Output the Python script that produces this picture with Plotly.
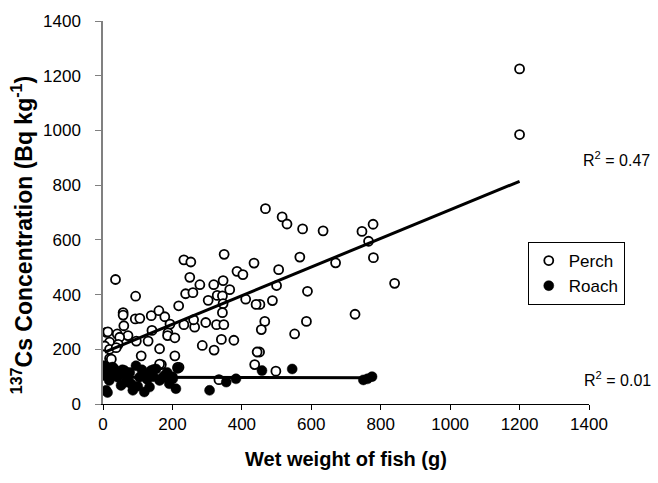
import numpy as np
import plotly.graph_objects as go

# ---- data ----
perch_x = [1200, 1200,
           468, 516, 530, 575, 634, 746, 778, 765, 779, 567, 670, 506, 840, 500, 589, 488,
           452, 726, 466, 586, 456, 552, 451, 498,
           233, 253, 349, 435, 386, 403, 250, 279, 319, 346, 365, 238, 259, 303, 329, 344,
           346, 344, 411, 441, 233, 264, 296, 327, 348, 261, 341, 377, 286, 320, 444,
           207, 219, 437, 334,
           36, 94, 218, 58, 58, 93, 106, 139, 161, 178, 193, 60, 10, 41, 72, 48, 141, 187,
           186, 207, 130, 96, 19, 44, 5, 19, 163, 19, 110, 168, 14, 163, 215, 24, 38]
perch_y = [1225, 985,
           714, 684, 658, 640, 633, 631, 657, 595, 535, 537, 516, 491, 441, 433, 412, 378,
           364, 328, 302, 302, 272, 256, 190, 120,
           527, 519, 547, 515, 485, 473, 463, 436, 436, 451, 418, 403, 407, 379, 397, 395,
           367, 334, 383, 364, 290, 281, 298, 290, 290, 308, 236, 233, 214, 197, 190,
           176, 134, 144, 89,
           455, 394, 359, 334, 325, 311, 313, 323, 341, 319, 292, 286, 262, 256, 250, 244, 269, 260,
           250, 242, 230, 230, 226, 218, 212, 200, 202, 166, 176, 144, 264, 146, 134, 164, 206]

roach_x = [2, 4, 9, 9, 13, 18, 24, 28, 33, 42, 48, 52, 56, 62, 66, 71, 77, 81, 86, 95,
           100, 105, 112, 119, 119, 127, 134, 138, 145, 146, 153, 163, 170, 177, 185, 191,
           200, 201, 210, 215, 307, 355, 383, 458, 545, 750, 762, 775]
roach_y = [140, 104, 134, 50, 42, 86, 110, 135, 128, 98, 110, 68, 125, 122, 80, 92, 115, 74, 50, 140,
           65, 98, 125, 104, 44, 90, 62, 122, 100, 126, 128, 86, 95, 104, 115, 74,
           100, 92, 56, 130, 50, 80, 92, 122, 128, 88, 92, 100]

r2_labels = ["R<sup>2</sup> = 0.47", "R<sup>2</sup> = 0.01"]
x_ticks = [0, 200, 400, 600, 800, 1000, 1200, 1400]
y_ticks = [0, 200, 400, 600, 800, 1000, 1200, 1400]
x_title = "<b>Wet weight of fish (g)</b>"
y_title = "<b><sup>137</sup>Cs Concentration (Bq kg<sup>-1</sup>)</b>"

FONT = "Liberation Sans, Arial, sans-serif"


def fit_line(xs, ys):
    xs = np.asarray(xs, float)
    ys = np.asarray(ys, float)
    m, c = np.polyfit(xs, ys, 1)
    xl = np.array([xs.min(), xs.max()])
    return xl, m * xl + c


fig = go.Figure()

fig.add_trace(go.Scatter(
    x=perch_x, y=perch_y, mode="markers", name="Perch",
    marker=dict(symbol="circle", size=9, color="white",
                line=dict(color="black", width=1.8)),
))
fig.add_trace(go.Scatter(
    x=roach_x, y=roach_y, mode="markers", name="Roach",
    marker=dict(symbol="circle", size=10, color="black",
                line=dict(color="black", width=0.5)),
))

px_l, py_l = fit_line(perch_x, perch_y)
rx_l, ry_l = fit_line(roach_x, roach_y)
fig.add_trace(go.Scatter(x=px_l, y=py_l, mode="lines", showlegend=False,
                         line=dict(color="black", width=3), hoverinfo="skip"))
fig.add_trace(go.Scatter(x=rx_l, y=ry_l, mode="lines", showlegend=False,
                         line=dict(color="black", width=3), hoverinfo="skip"))

fig.add_annotation(x=1378, y=894, xref="x", yref="y", text=r2_labels[0],
                   showarrow=False, xanchor="left", yanchor="middle",
                   font=dict(family=FONT, size=16, color="black"))
fig.add_annotation(x=1380, y=93, xref="x", yref="y", text=r2_labels[1],
                   showarrow=False, xanchor="left", yanchor="middle",
                   font=dict(family=FONT, size=16, color="black"))

# y-axis title (placed as rotated annotation to match reference position)
fig.add_annotation(x=-0.165, y=0.44, xref="paper", yref="paper", text=y_title,
                   showarrow=False, textangle=-90, xanchor="center", yanchor="middle",
                   font=dict(family=FONT, size=23, color="black"))

fig.update_layout(
    width=658, height=483, autosize=False,
    margin=dict(l=103, r=69, t=14, b=79),
    paper_bgcolor="white", plot_bgcolor="white",
    font=dict(family=FONT, size=17, color="black"),
    legend=dict(x=0.874, y=0.423, xanchor="left", yanchor="top",
                bordercolor="black", borderwidth=1, bgcolor="white",
                font=dict(family=FONT, size=17), itemwidth=30),
    xaxis=dict(
        range=[0, 1400], tickvals=x_ticks, ticks="outside", ticklen=5,
        tickcolor="black", showline=True, linecolor="black", linewidth=1,
        showgrid=False, zeroline=False,
        tickfont=dict(family=FONT, size=17),
        title=dict(text=x_title, font=dict(family=FONT, size=20), standoff=18),
    ),
    yaxis=dict(
        range=[0, 1400], tickvals=y_ticks, ticks="outside", ticklen=6,
        tickcolor="#808080", showline=True, linecolor="#808080", linewidth=1.5,
        showgrid=False, zeroline=False, ticklabelstandoff=11,
        tickfont=dict(family=FONT, size=17),
    ),
)

fig.write_html("out.html")
